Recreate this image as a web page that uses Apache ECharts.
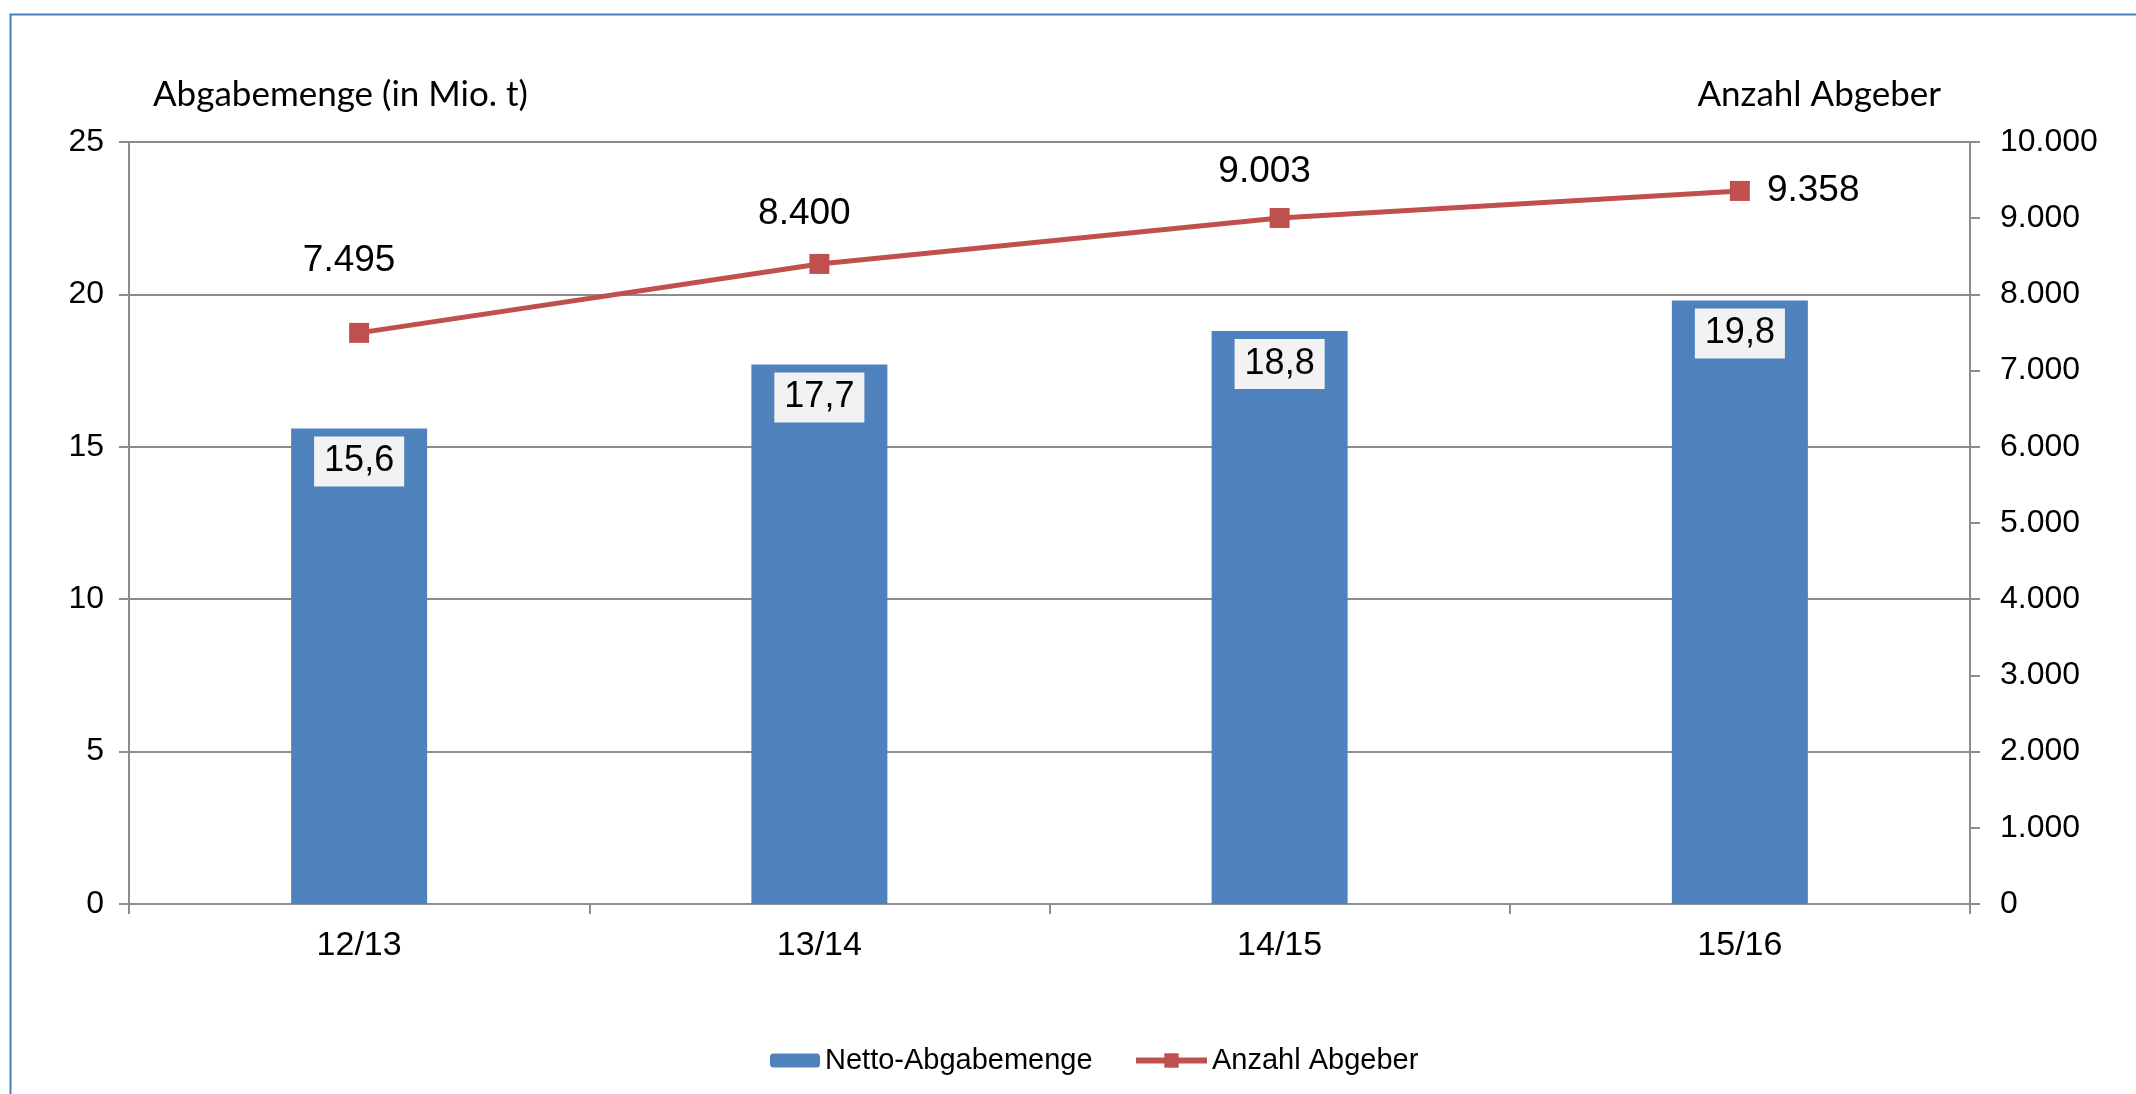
<!DOCTYPE html>
<html>
<head>
<meta charset="utf-8">
<script src="https://cdn.jsdelivr.net/npm/echarts@6/dist/echarts.min.js"></script>
<style>
html,body{margin:0;padding:0;background:#fff;}
#chart{width:2136px;height:1094px;}
</style>
</head>
<body>
<div id="chart"></div>
<script>
const categories = ['12/13', '13/14', '14/15', '15/16'];
const nettoAbgabemenge = [15.6, 17.7, 18.8, 19.8];
const anzahlAbgeber = [7495, 8400, 9003, 9358];
const leftTicks = [0, 5, 10, 15, 20, 25];
const rightTicks = [0, 1000, 2000, 3000, 4000, 5000, 6000, 7000, 8000, 9000, 10000];

const fmtThousands = v => String(v).replace(/\B(?=(\d{3})+(?!\d))/g, '.');
const fmtDecimal = v => String(v).replace('.', ',');

const lineLabelCfg = [
  {position: 'top', distance: 44, offset: [-10, 0]},
  {position: 'top', distance: 22, offset: [-15, 0]},
  {position: 'top', distance: 18, offset: [-15, 0]},
  {position: 'right', distance: 17}
];

const axisGray = '#8c8c8c';
const font = 'Arial, "Liberation Sans", sans-serif';
const nameFont = 'Lato, "Open Sans", sans-serif';

const chart = echarts.init(document.getElementById('chart'));
chart.setOption({
  animation: false,
  backgroundColor: '#ffffff',
  textStyle: {fontFamily: font, color: '#000'},
  graphic: [{
    type: 'rect', left: 8, top: 12, silent: true,
    shape: {width: 2200, height: 1200},
    style: {fill: 'none', stroke: '#4a7ebb', lineWidth: 2}
  }],
  grid: {left: 129, right: 166, top: 142, bottom: 190, containLabel: false},
  legend: [{
    data: ['Netto-Abgabemenge'], left: 765, top: 1041,
    itemWidth: 50, itemHeight: 14, itemGap: 6,
    textStyle: {fontFamily: font, fontSize: 29, color: '#000'}
  }, {
    data: ['Anzahl Abgeber'], left: 1128, top: 1041,
    itemWidth: 71, itemHeight: 18,
    lineStyle: {width: 6},
    textStyle: {fontFamily: font, fontSize: 29, color: '#000'}
  }],
  xAxis: {
    type: 'category', data: categories, boundaryGap: true,
    axisLine: {lineStyle: {color: axisGray, width: 2}},
    axisTick: {show: true, length: 10, lineStyle: {color: axisGray, width: 2}},
    axisLabel: {fontSize: 34, color: '#000', margin: 25, fontFamily: font}
  },
  yAxis: [{
    type: 'value', min: 0, max: 25, interval: 5, position: 'left',
    name: 'Abgabemenge (in Mio. t)', nameLocation: 'end', nameGap: 47,
    nameTextStyle: {fontFamily: nameFont, fontSize: 35, color: '#000', align: 'left', verticalAlign: 'middle', padding: [0, 0, 0, 24]},
    axisLine: {show: true, lineStyle: {color: axisGray, width: 2}},
    axisTick: {show: true, length: 10, lineStyle: {color: axisGray, width: 2}},
    axisLabel: {fontSize: 32, color: '#000', margin: 25, fontFamily: font},
    splitLine: {show: true, lineStyle: {color: axisGray, width: 2}}
  }, {
    type: 'value', min: 0, max: 10000, interval: 1000, position: 'right',
    name: 'Anzahl Abgeber', nameLocation: 'end', nameGap: 47,
    nameTextStyle: {fontFamily: nameFont, fontSize: 35, color: '#000', align: 'right', verticalAlign: 'middle', padding: [0, 29, 0, 0]},
    axisLine: {show: true, lineStyle: {color: axisGray, width: 2}},
    axisTick: {show: true, length: 10, lineStyle: {color: axisGray, width: 2}},
    axisLabel: {fontSize: 32, color: '#000', margin: 30, fontFamily: font, formatter: v => fmtThousands(v)},
    splitLine: {show: false}
  }],
  series: [{
    name: 'Netto-Abgabemenge', type: 'bar', yAxisIndex: 0,
    data: nettoAbgabemenge, barWidth: 136,
    itemStyle: {color: '#4f81bd'},
    label: {
      show: true, position: 'insideTop', distance: 8,
      fontSize: 36, lineHeight: 36, color: '#000', fontFamily: font,
      backgroundColor: '#f2f2f2', padding: [7, 10, 7, 10],
      formatter: p => fmtDecimal(p.value)
    }
  }, {
    name: 'Anzahl Abgeber', type: 'line', yAxisIndex: 1, z: 5,
    data: anzahlAbgeber.map((v, i) => ({value: v, label: lineLabelCfg[i]})),
    symbol: 'rect', symbolSize: 20,
    lineStyle: {color: '#c0504d', width: 5},
    itemStyle: {color: '#c0504d'},
    label: {
      show: true, fontSize: 37, color: '#000', fontFamily: font,
      formatter: p => fmtThousands(p.value)
    }
  }]
});
</script>
</body>
</html>
